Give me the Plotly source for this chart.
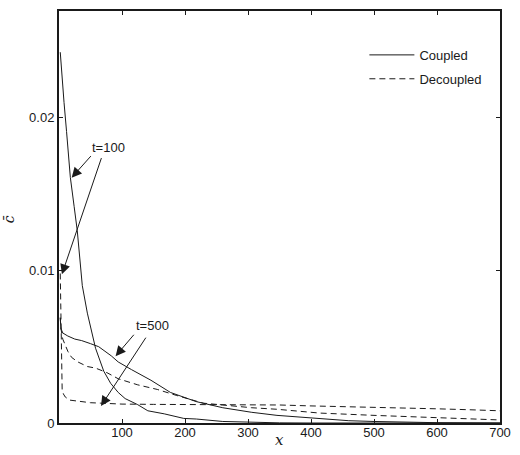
import plotly.graph_objects as go

# Coupled t=100 (solid)
x_c100 = [2, 5, 8, 12, 18, 24, 29, 37, 45, 58, 71, 82, 94, 105, 125, 141, 167, 198, 218, 260, 300, 350, 400, 500, 600, 700]
y_c100 = [0.0243, 0.0225, 0.0210, 0.0191, 0.0161, 0.0142, 0.0126, 0.0090, 0.0072, 0.0049, 0.0034, 0.0026, 0.0020, 0.0016, 0.0012, 0.0008, 0.0006, 0.0003, 0.00026, 0.0001, 0.00004, 0.00001, 0.0, 0.0, 0.0, 0.0]

# Coupled t=500 (solid)
x_c500 = [2, 3, 6, 10, 14, 25, 36, 50, 63, 83, 94, 115, 146, 177, 218, 260, 306, 346, 414, 460, 500, 550, 600, 700]
y_c500 = [0.0069, 0.0062, 0.0059, 0.0058, 0.0057, 0.0055, 0.0054, 0.0052, 0.0050, 0.0044, 0.0040, 0.0035, 0.0028, 0.0020, 0.0014, 0.0010, 0.0007, 0.0005, 0.0003, 0.00015, 0.0001, 0.00005, 0.00002, 0.0]

# Decoupled t=100 (dashed)
x_d100 = [2, 2.5, 3, 4, 5, 7, 10, 17, 25, 35, 50, 66, 100, 150, 200, 250, 300, 350, 400, 450, 500, 550, 600, 650, 700]
y_d100 = [0.0098, 0.0085, 0.0050, 0.0028, 0.0022, 0.0019, 0.0017, 0.0015, 0.00145, 0.0014, 0.00133, 0.0013, 0.00124, 0.00122, 0.00122, 0.00122, 0.0012, 0.00118, 0.00112, 0.00108, 0.00103, 0.00098, 0.00093, 0.00087, 0.0008]

# Decoupled t=500 (dashed)
x_d500 = [2, 3, 6, 9, 14, 20, 30, 45, 58, 76, 94, 125, 156, 187, 229, 260, 306, 346, 414, 500, 600, 700]
y_d500 = [0.0069, 0.0062, 0.0055, 0.0052, 0.0047, 0.0043, 0.0040, 0.0037, 0.0036, 0.0033, 0.0029, 0.0025, 0.0022, 0.0018, 0.0013, 0.00118, 0.0010, 0.0009, 0.00065, 0.0005, 0.00035, 0.0002]

x_ticks = [100, 200, 300, 400, 500, 600, 700]
y_ticks = [0, 0.01, 0.02]
y_ticktext = ["0", "0.01", "0.02"]

LC = "#1a1a1a"
DASH = "6px,4px"
FS = 13

fig = go.Figure()
fig.add_trace(go.Scatter(x=x_c100, y=y_c100, mode="lines", name="Coupled",
                         line=dict(color=LC, width=1), legendgroup="a", showlegend=True))
fig.add_trace(go.Scatter(x=x_c500, y=y_c500, mode="lines", name="Coupled",
                         line=dict(color=LC, width=1), legendgroup="a", showlegend=False))
fig.add_trace(go.Scatter(x=x_d100, y=y_d100, mode="lines", name="Decoupled",
                         line=dict(color=LC, width=1, dash=DASH), legendgroup="b", showlegend=True))
fig.add_trace(go.Scatter(x=x_d500, y=y_d500, mode="lines", name="Decoupled",
                         line=dict(color=LC, width=1, dash=DASH), legendgroup="b", showlegend=False))

def arrow(tip, tail):
    return dict(x=tip[0], y=tip[1], ax=tail[0], ay=tail[1], xref="x", yref="y",
                axref="x", ayref="y", text="", showarrow=True, arrowhead=2,
                arrowsize=2.0, arrowwidth=1, arrowcolor=LC, standoff=0, startstandoff=0)

annotations = [
    dict(x=79, y=0.01804, xref="x", yref="y", text="t=100", showarrow=False,
         font=dict(family="Liberation Sans", size=FS, color=LC)),
    arrow((20.1, 0.01608), (52.7, 0.01759)),
    arrow((4.6, 0.00974), (68.1, 0.01746)),
    dict(x=148.7, y=0.00641, xref="x", yref="y", text="t=500", showarrow=False,
         font=dict(family="Liberation Sans", size=FS, color=LC)),
    arrow((89.8, 0.00438), (120.8, 0.00588)),
    arrow((66.6, 0.00111), (139.4, 0.00569)),
    dict(x=0.5, y=-0.041, xref="paper", yref="paper", text="<i>x</i>", showarrow=False,
         xanchor="center", yanchor="middle",
         font=dict(family="DejaVu Serif", size=15, color=LC)),
    dict(x=-0.113, y=0.495, xref="paper", yref="paper", text="<i>c\u0304</i>", showarrow=False,
         xanchor="center", yanchor="middle", textangle=-90,
         font=dict(family="DejaVu Serif", size=14, color=LC)),
]

fig.update_layout(
    width=520, height=455,
    margin=dict(l=59, r=9, t=10, b=32),
    paper_bgcolor="white", plot_bgcolor="white",
    font=dict(family="Liberation Sans", size=FS, color=LC),
    annotations=annotations,
    legend=dict(x=(372 - 59) / 452, y=(423 - 39) / 413, xanchor="left", yanchor="top",
                bgcolor="rgba(0,0,0,0)", borderwidth=0, itemwidth=45,
                traceorder="grouped", tracegroupgap=4,
                font=dict(family="Liberation Sans", size=FS, color=LC)),
)
fig.update_xaxes(range=[0, 700], tickvals=x_ticks, ticks="inside", ticklen=4,
                 tickcolor=LC, showline=True, linecolor=LC, linewidth=2, mirror="ticks",
                 showgrid=False, zeroline=False, tickfont=dict(size=FS),
                 ticklabelstandoff=-4)
fig.update_yaxes(range=[0, 0.027], tickvals=y_ticks, ticktext=y_ticktext, ticks="inside",
                 ticklen=4, tickcolor=LC, showline=True, linecolor=LC, linewidth=2,
                 mirror="ticks", showgrid=False, zeroline=False, tickfont=dict(size=FS))

fig.write_html("out.html")
